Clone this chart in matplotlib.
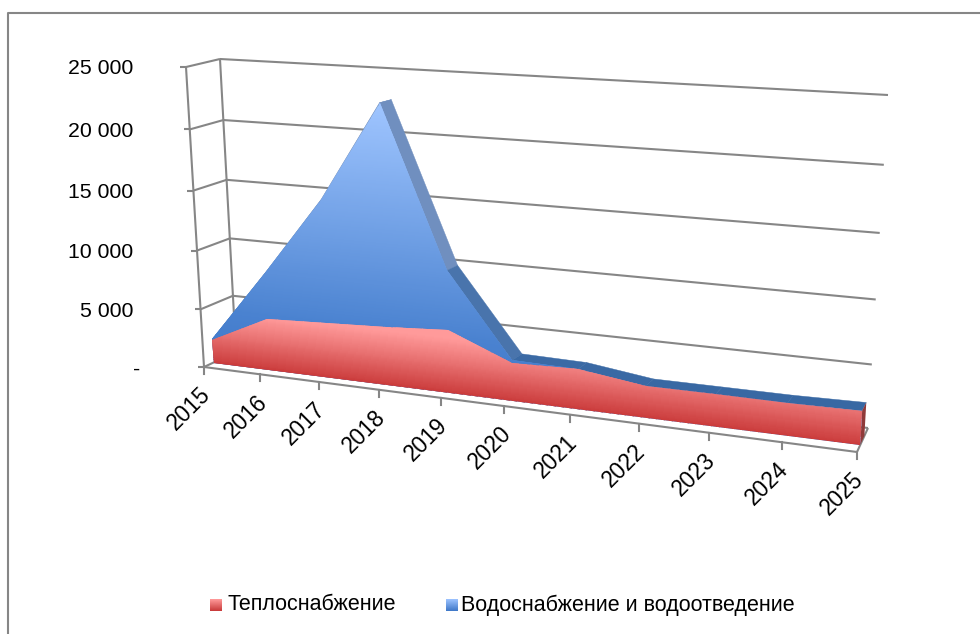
import numpy as np
import matplotlib
matplotlib.use('Agg')
import matplotlib.pyplot as plt
from matplotlib.colors import LinearSegmentedColormap
from matplotlib.patches import Polygon
from matplotlib.transforms import Transform

plt.rcParams['font.family'] = ['Liberation Sans', 'DejaVu Sans']

# values
years = ['2015','2016','2017','2018','2019','2020','2021','2022','2023','2024','2025']
heat = [2000, 4400, 4600, 4800, 5150, 3100, 3200, 2500, 2500, 2500, 2600]
water = [2050, 8300, 14800, 22800, 10000, 3300, 3200, 2500, 2500, 2500, 2600]
val_ticks = [0, 5000, 10000, 15000, 20000, 25000]
val_labels = ['-', '5 000', '10 000', '15 000', '20 000', '25 000']
names = ['Теплоснабжение', 'Водоснабжение и водоотведение']

VMAX = 25000.0
NCAT = len(years)-1

def homography(dst):
    src = [(0,0),(NCAT,0),(0,VMAX),(NCAT,VMAX)]
    a = []
    b = []
    for (x,y),(u,v) in zip(src,dst):
        a.append([x,y,1,0,0,0,-u*x,-u*y])
        a.append([0,0,0,x,y,1,-v*x,-v*y])
        b += [u,v]
    h = np.linalg.solve(np.array(a,float),np.array(b,float))
    return np.append(h,1.0).reshape(3,3)

# box corners in image pixels
H_FRONT = homography([(204,367),(857,452),(186,67),(875,102)])
H_BACK = homography([(236,352),(868,428),(220,59),(888,95)])

class Box(Transform):
    # (category index, value) at a given depth -> image pixels
    input_dims = 2
    output_dims = 2
    def __init__(self,dep):
        Transform.__init__(self)
        self.dep = dep
    def transform_non_affine(self,xy):
        xy = np.asarray(xy,float)
        p = np.column_stack((xy,np.ones(len(xy))))
        f = p@H_FRONT.T
        g = p@H_BACK.T
        f = f[:,:2]/f[:,2:]
        g = g[:,:2]/g[:,2:]
        return f+(g-f)*self.dep

D_FRONT = 0.30
D_REAR = 0.67

fig = plt.figure(figsize=(9.8,6.34),dpi=100,facecolor='w')
ax = fig.add_axes([0,0,1,1])
ax.set_xlim(0,980)
ax.set_ylim(634,0)
ax.axis('off')

GRID = '#868686'
FS = 15.3
front = Box(0.0)
back = Box(1.0)
cats = np.arange(NCAT+1)

def line(a,b,**kw):
    ax.plot([a[0],b[0]],[a[1],b[1]],color=GRID,lw=1.5,solid_capstyle='butt',zorder=kw.pop('zorder',1))

# walls and gridlines
for v,lab in zip(val_ticks,val_labels):
    pf = front.transform(np.array([[0,v]],float))[0]
    pb = back.transform(np.array([[0,v]],float))[0]
    pe = back.transform(np.array([[NCAT,v]],float))[0]
    line(pf,pb)
    line(pb,pe)
    line(pf,(pf[0]-6,pf[1]))
    ax.text(133 if v else 140,pf[1]+2,lab,ha='right',va='center',fontsize=FS,color='k')
pts = front.transform(np.array([[0,0],[0,VMAX]],float))
line(pts[0],pts[1])
pts = back.transform(np.array([[0,0],[0,VMAX]],float))
line(pts[0],pts[1])
pts = front.transform(np.array([[NCAT,0]],float))[0]
line(pts,back.transform(np.array([[NCAT,0]],float))[0])

def grad_fill(poly,plane,stops,vtop,z):
    cmap = LinearSegmentedColormap.from_list('g',stops)
    vv = np.linspace(-500,VMAX,300)
    ii = np.array([-1.0,NCAT+1.0])
    c = np.clip(vv[:-1,None]/vtop,0,1)
    m = ax.pcolormesh(ii,vv,c,cmap=cmap,vmin=0,vmax=1,transform=plane+ax.transData,zorder=z,shading='flat')
    patch = Polygon(poly,closed=True,transform=ax.transData,fc='none',ec='none')
    ax.add_patch(patch)
    m.set_clip_path(patch)

plane = Box(D_FRONT)
rear = Box(D_REAR)
xy_w = np.column_stack((cats,water)).astype(float)
xy_h = np.column_stack((cats,heat)).astype(float)

# blue top band
top_f = plane.transform(xy_w)
top_r = rear.transform(xy_w)
for k in range(NCAT):
    seg = np.vstack((top_f[k:k+2],top_r[k:k+2][::-1]))
    vm = 0.5*(water[k]+water[k+1])
    t = min(vm/16000.0,1.0)
    col = np.array([0.18,0.38,0.62])*(1-t)+np.array([0.44,0.56,0.75])*t
    ax.fill(seg[:,0],seg[:,1],color=col,lw=0.3,zorder=2)

# dark right side
side = np.vstack((top_f[-1],top_r[-1],rear.transform(np.array([[NCAT,0.0]])),plane.transform(np.array([[NCAT,0.0]]))))
ax.fill(side[:,0],side[:,1],color='#8f3a3a',lw=0,zorder=2)

# blue front
base = plane.transform(np.array([[NCAT,0.0],[0.0,0.0]]))
grad_fill(np.vstack((top_f,base)),plane,[(0,'#3f78c8'),(0.2,'#4a82d0'),(1,'#9fc5ff')],22800.0,3)

# red front
top_h = plane.transform(xy_h)
grad_fill(np.vstack((top_h,base)),plane,[(0,'#cb3c3c'),(0.5,'#e56c6c'),(1,'#ff9a9a')],4500.0,4)

# category axis
pts = front.transform(np.array([[0,0],[NCAT,0]],float))
line(pts[0],pts[1],zorder=5)
ticks = front.transform(np.column_stack((cats,np.zeros(NCAT+1))).astype(float))
for (x,y),lab in zip(ticks,years):
    ax.plot([x,x],[y,y+7],color=GRID,lw=1.5,zorder=5)
    ax.text(x+3,y+24,lab,rotation=45,rotation_mode='anchor',ha='right',va='center',fontsize=16.3,color='k')

# legend
sw = [(210,222,227),(446,458,461)]
stops = [['#c83a3a','#ff9a9a'],['#3f78c8','#9cc3ff']]
for (x0,x1,tx),nm,st in zip(sw,names,stops):
    cm = LinearSegmentedColormap.from_list('s',st)
    ax.imshow(np.linspace(1,0,32)[:,None],extent=(x0,x1,611,599),origin='upper',cmap=cm,aspect='auto',zorder=3)
    ax.text(tx,605,nm,ha='left',va='center',fontsize=15.5,color='k')
ax.set_xlim(0,980)
ax.set_ylim(634,0)

# outer frame
ax.plot([8,8,985],[640,13,13],color=GRID,lw=1.5,zorder=1)

plt.savefig('out.png',dpi=100)
